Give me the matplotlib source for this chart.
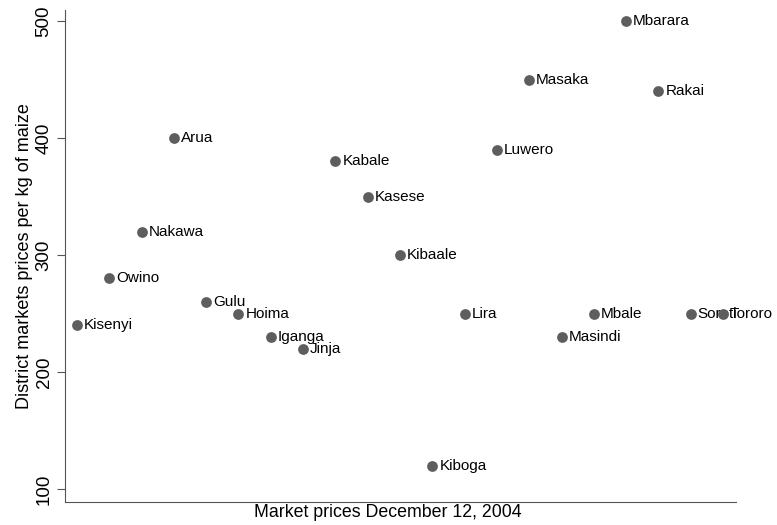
import matplotlib.pyplot as plt
import numpy as np

plt.rcParams['font.family'] = ['Liberation Sans', 'DejaVu Sans']

# District names, in the order they sit along the x axis
districts = ['Kisenyi', 'Owino', 'Nakawa', 'Arua', 'Gulu', 'Hoima', 'Iganga',
             'Jinja', 'Kabale', 'Kasese', 'Kibaale', 'Kiboga', 'Lira', 'Luwero',
             'Masaka', 'Masindi', 'Mbale', 'Mbarara', 'Rakai', 'Soroti', 'Tororo']
# Maize price per kg
prices = [240, 280, 320, 400, 260, 250, 230, 220, 380, 350, 300, 120, 250, 390,
          450, 230, 250, 500, 440, 250, 250]

x = np.arange(1, len(districts) + 1)

fig = plt.figure(figsize=(7.77, 5.25), dpi=100)
ax = fig.add_axes([65 / 777, 1 - 502 / 525, (736 - 65) / 777, (502 - 10) / 525])

# markers and labels drawn one point at a time so later markers sit on earlier labels
for i, (xi, yi, name) in enumerate(zip(x, prices, districts)):
    ax.scatter(xi, yi, s=60, color='#5e5e5e', linewidths=0, zorder=2 + 2 * i)
    ax.annotate(name, (xi, yi), xytext=(5, 0), textcoords='offset points',
                ha='left', va='center', fontsize=11, zorder=3 + 2 * i)

ax.set_xlim(0.63, 21.4)
ax.set_ylim(88.9, 509.4)
ax.set_yticks([100, 200, 300, 400, 500])
ax.set_xticks([])
ax.tick_params(axis='y', labelrotation=90, labelsize=13.5, length=6, pad=3,
               color='#555555')
for lbl in ax.get_yticklabels():
    lbl.set_va('center')

ax.spines['top'].set_visible(False)
ax.spines['right'].set_visible(False)
ax.spines['left'].set_color('#555555')
ax.spines['bottom'].set_color('#555555')

ax.set_xlabel('Market prices December 12, 2004', fontsize=12.8)
ax.set_ylabel('District markets prices per kg of maize', fontsize=13)
ax.xaxis.set_label_coords(0.481, -0.004)
ax.yaxis.set_label_coords(-0.048, 0.5)

fig.savefig('out.png', dpi=100)
